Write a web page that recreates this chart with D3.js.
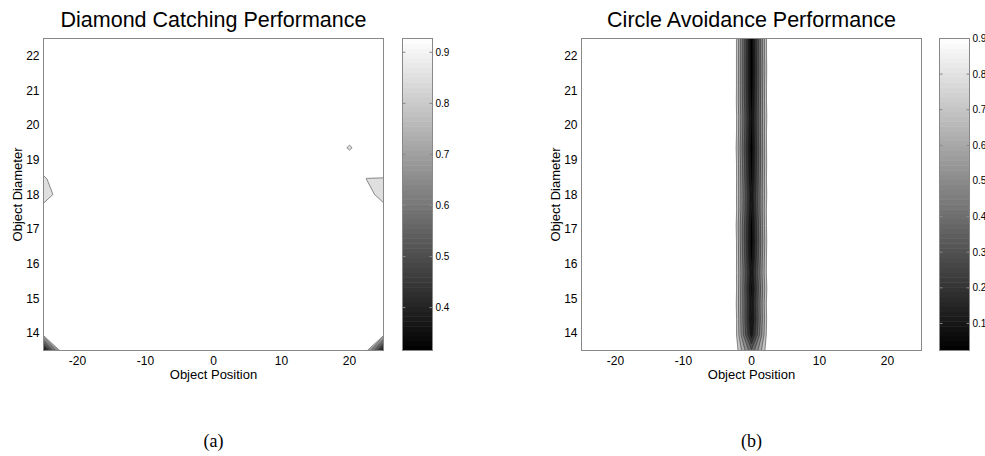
<!DOCTYPE html>
<html lang="en">
<head>
<meta charset="UTF-8">
<title>Diamond Catching / Circle Avoidance Performance</title>
<script src="https://d3js.org/d3.v7.min.js"></script>
<style>
    body { margin: 0; background: #fff; }
    text { font-family: "Liberation Sans", Arial, sans-serif; fill: #000; }
    .caption { font-family: "Liberation Serif", "Times New Roman", serif; }
</style>
</head>
<body>
<div id="chart"></div>
<script>
// sweep grid (21 positions x 21 diameters)
const objectPositions = [-25, -22.5, -20, -17.5, -15, -12.5, -10, -7.5, -5, -2.5, 0,
    2.5, 5, 7.5, 10, 12.5, 15, 17.5, 20, 22.5, 25];
const objectDiameters = [13.5, 13.95, 14.4, 14.85, 15.3, 15.75, 16.2, 16.65, 17.1, 17.55, 18.0,
    18.45, 18.9, 19.35, 19.8, 20.25, 20.7, 21.15, 21.6, 22.05, 22.5];

const xTicks = [-20, -10, 0, 10, 20];
const yTicks = [14, 15, 16, 17, 18, 19, 20, 21, 22];

// (a) diamond catching: top score nearly everywhere, a few dips
const catchBase = 0.927;
const catchDips = [ // [position, diameter, score]
    [-25, 13.5, 0.316],
    [25, 13.5, 0.33],
    [-25, 18.0, 0.866],
    [-25, 18.45, 0.893],
    [22.5, 18.45, 0.899],
    [25, 18.45, 0.898],
    [25, 18.0, 0.87],
    [20, 19.35, 0.895]
];
const catchLevels = [0.35, 0.4, 0.45, 0.5, 0.55, 0.6, 0.65, 0.7, 0.75, 0.8, 0.85, 0.9];
const catchRange = [0.316, 0.927];
const catchBarTicks = [0.4, 0.5, 0.6, 0.7, 0.8, 0.9];

// (b) circle avoidance: low score only in a narrow band around position 0
const avoidBase = 0.9;
const avoidAtMinus25 = [0.9, 0.89, 0.9, 0.88, 0.9, 0.89, 0.9, 0.9, 0.88, 0.9, 0.89,
    0.9, 0.9, 0.88, 0.9, 0.9, 0.89, 0.9, 0.9, 0.9, 0.9];
const avoidAtZero = [0.42, 0.14, 0.08, 0.1, 0.07, 0.11, 0.06, 0.03, 0.05, 0.09, 0.11,
    0.07, 0.05, 0.03, 0.06, 0.08, 0.05, 0.03, 0.024, 0.03, 0.03];
const avoidAtPlus25 = [0.9, 0.9, 0.89, 0.9, 0.88, 0.9, 0.9, 0.89, 0.9, 0.9, 0.88,
    0.9, 0.89, 0.9, 0.9, 0.88, 0.9, 0.9, 0.89, 0.9, 0.9];
const avoidLevels = [0.1, 0.2, 0.3, 0.4, 0.5, 0.6, 0.7, 0.8];
const avoidRange = [0.024, 0.9];
const avoidBarTicks = [0.1, 0.2, 0.3, 0.4, 0.5, 0.6, 0.7, 0.8, 0.9];

const nx = objectPositions.length, ny = objectDiameters.length;

// build flat grids (row = diameter, col = position)
const catchValues = new Array(nx * ny).fill(catchBase);
catchDips.forEach(([p, d, v]) => {
    catchValues[objectDiameters.indexOf(d) * nx + objectPositions.indexOf(p)] = v;
});

const avoidValues = new Array(nx * ny).fill(avoidBase);
objectDiameters.forEach((d, j) => {
    avoidValues[j * nx + objectPositions.indexOf(-2.5)] = avoidAtMinus25[j];
    avoidValues[j * nx + objectPositions.indexOf(0)] = avoidAtZero[j];
    avoidValues[j * nx + objectPositions.indexOf(2.5)] = avoidAtPlus25[j];
});

const width = 985, height = 456;
const svg = d3.select("#chart").append("svg")
    .attr("width", width)
    .attr("height", height);

const plotTop = 38.5, plotH = 312, plotW = 340, barW = 30;

function drawPanel(opts) {
    const left = opts.left;
    const g = svg.append("g");

    const x = d3.scaleLinear().domain([-25, 25]).range([left, left + plotW]);
    const y = d3.scaleLinear().domain([13.5, 22.5]).range([plotTop + plotH, plotTop]);
    const color = d3.scaleLinear().domain(opts.range).range(["#000", "#fff"]).clamp(true);

    const dx = objectPositions[1] - objectPositions[0];
    const dy = objectDiameters[1] - objectDiameters[0];
    // d3.contours puts sample (i, j) at (i + .5, j + .5)
    const proj = d3.geoTransform({
        point: function(c, r) {
            this.stream.point(x(objectPositions[0] + (c - 0.5) * dx),
                              y(objectDiameters[0] + (r - 0.5) * dy));
        }
    });
    const path = d3.geoPath(proj);

    const thresholds = [opts.range[0] - 0.01].concat(opts.levels);
    const contours = d3.contours().size([nx, ny]).thresholds(thresholds)(opts.values);

    const clipId = "clip-" + opts.id;
    svg.append("clipPath").attr("id", clipId)
        .append("rect")
        .attr("x", x(-25)).attr("y", y(22.5))
        .attr("width", plotW).attr("height", plotH);

    const area = g.append("g").attr("clip-path", `url(#${clipId})`);
    area.selectAll("path.fill")
        .data(contours)
        .join("path")
        .attr("class", "fill")
        .attr("d", path)
        .attr("fill", (d, i) => i === contours.length - 1 ? "#fff" : color(d.value));
    area.selectAll("path.line")
        .data(contours.slice(1))
        .join("path")
        .attr("class", "line")
        .attr("d", path)
        .attr("fill", "none")
        .attr("stroke", "#222")
        .attr("stroke-width", 0.5);

    // frame
    g.append("rect")
        .attr("x", left).attr("y", plotTop)
        .attr("width", plotW).attr("height", plotH)
        .attr("fill", "none")
        .attr("stroke", "#888");

    // tick labels
    g.selectAll("text.xt").data(xTicks).join("text")
        .attr("x", d => x(d))
        .attr("y", plotTop + plotH + 14)
        .attr("text-anchor", "middle")
        .style("font-size", "12px")
        .text(d => d);
    g.selectAll("text.yt").data(yTicks).join("text")
        .attr("x", left - 4)
        .attr("y", d => y(d))
        .attr("dy", "0.35em")
        .attr("text-anchor", "end")
        .style("font-size", "12px")
        .text(d => d);

    // axis titles
    g.append("text")
        .attr("x", left + plotW / 2)
        .attr("y", plotTop + plotH + 28)
        .attr("text-anchor", "middle")
        .style("font-size", "13px")
        .text("Object Position");
    g.append("text")
        .attr("transform", `translate(${left - 22}, ${plotTop + plotH / 2}) rotate(-90)`)
        .attr("text-anchor", "middle")
        .style("font-size", "13px")
        .text("Object Diameter");

    g.append("text")
        .attr("x", left + plotW / 2)
        .attr("y", 27)
        .attr("text-anchor", "middle")
        .style("font-size", "21.5px")
        .text(opts.title);

    g.append("text")
        .attr("class", "caption")
        .attr("x", left + plotW / 2)
        .attr("y", 447)
        .attr("text-anchor", "middle")
        .style("font-size", "18px")
        .text(opts.caption);

    // colorbar
    const bx = opts.barLeft;
    const cb = d3.scaleLinear().domain(opts.range).range([plotTop + plotH, plotTop]);
    const steps = d3.range(64);
    const stepH = plotH / 64;
    g.selectAll("rect.cb").data(steps).join("rect")
        .attr("x", bx)
        .attr("y", i => plotTop + plotH - (i + 1) * stepH)
        .attr("width", barW)
        .attr("height", stepH + 0.5)
        .attr("fill", i => color(opts.range[0] + (i + 0.5) / 64 * (opts.range[1] - opts.range[0])));
    g.append("rect")
        .attr("x", bx).attr("y", plotTop)
        .attr("width", barW).attr("height", plotH)
        .attr("fill", "none")
        .attr("stroke", "#888");
    const tk = g.selectAll("g.cbt").data(opts.barTicks).join("g")
        .attr("transform", d => `translate(0, ${cb(d)})`);
    tk.append("line").attr("x1", bx).attr("x2", bx + 3).attr("stroke", "#888");
    tk.append("line").attr("x1", bx + barW - 3).attr("x2", bx + barW).attr("stroke", "#888");
    tk.append("text")
        .attr("x", bx + barW + 3)
        .attr("dy", "0.35em")
        .style("font-size", "10px")
        .text(d => d);
}

drawPanel({
    id: "a", left: 43.5, barLeft: 402.5,
    values: catchValues, levels: catchLevels, range: catchRange, barTicks: catchBarTicks,
    title: "Diamond Catching Performance", caption: "(a)"
});
drawPanel({
    id: "b", left: 581.5, barLeft: 939.5,
    values: avoidValues, levels: avoidLevels, range: avoidRange, barTicks: avoidBarTicks,
    title: "Circle Avoidance Performance", caption: "(b)"
});
</script>
</body>
</html>
